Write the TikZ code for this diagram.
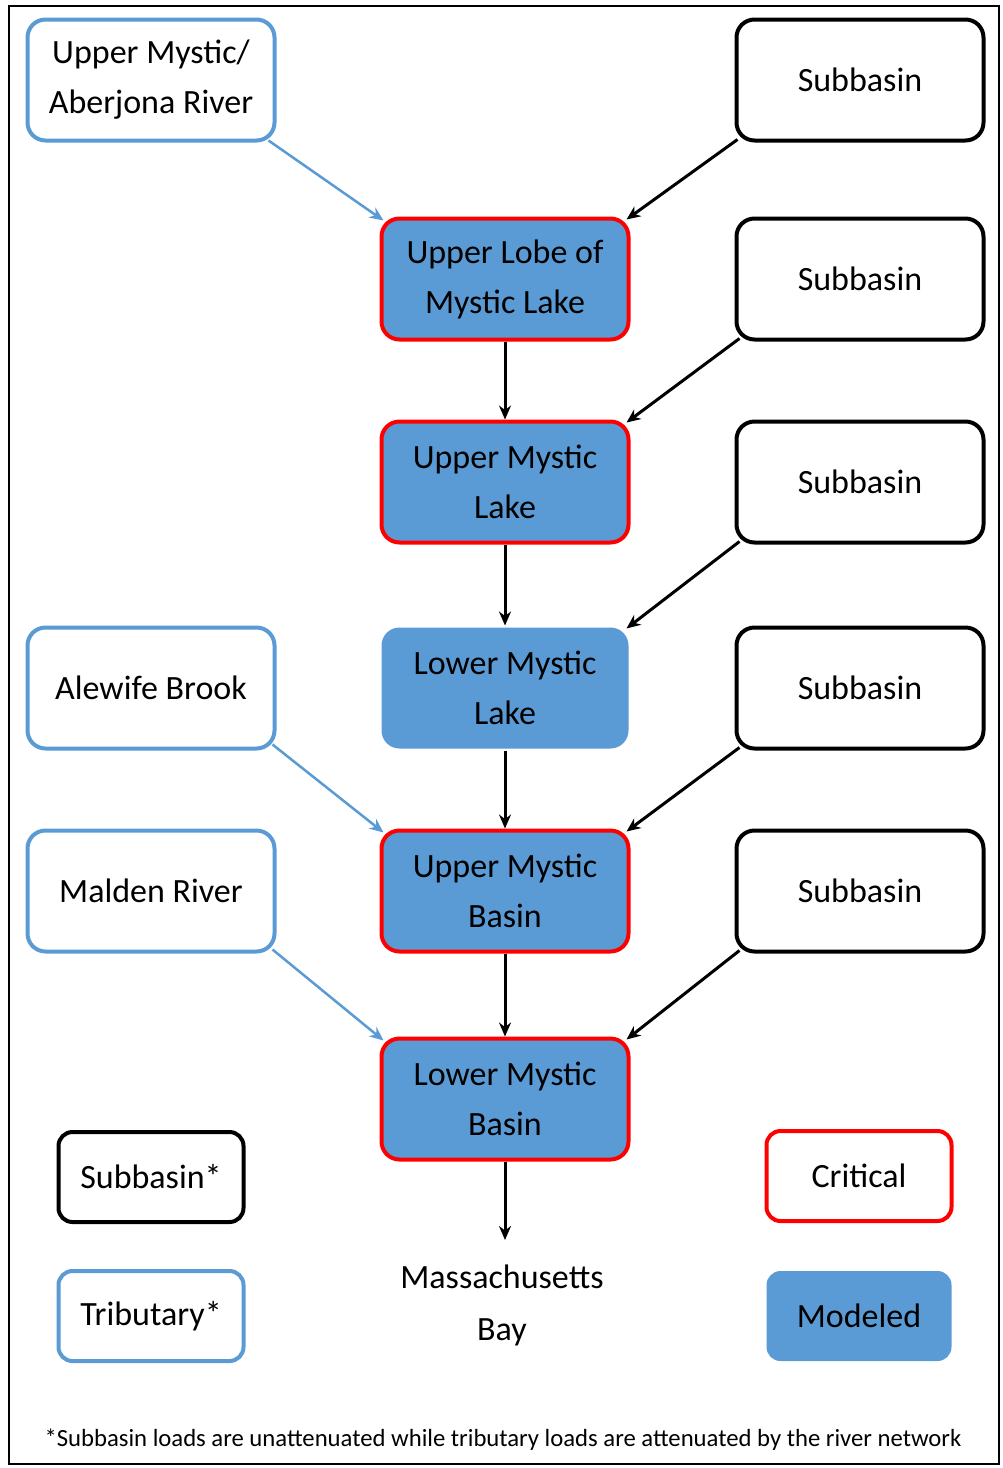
\documentclass[tikz,border=0pt]{standalone}
\usepackage{fontspec}
\setmainfont{Carlito}
\usetikzlibrary{arrows.meta}
\definecolor{mblue}{HTML}{5B9BD5}
\definecolor{mred}{HTML}{FF0000}
\begin{document}
\begin{tikzpicture}[x=1pt,y=-1pt,
  box/.style={rectangle,rounded corners=18pt,minimum width=247pt,minimum height=121pt,
    line width=4pt,align=center,font=\fontsize{34}{50}\selectfont,inner sep=0pt},
  subb/.style={box,draw=black},
  trib/.style={box,draw=mblue,fill=white},
  crit/.style={box,draw=mred,fill=mblue},
  modl/.style={box,fill=mblue},
  legbox/.style={minimum width=185pt,minimum height=90pt,rounded corners=14pt},
  flow/.style={line width=3pt,-{Stealth[length=14pt,width=12pt]},black},
  tflow/.style={line width=2.5pt,-{Stealth[length=14pt,width=12pt]},mblue}]
\useasboundingbox (0,0) rectangle (1002,1468);
\fill[white] (0,0) rectangle (1002,1468);
\draw[line width=2pt] (9,6) rectangle (999,1464);
% tributaries
\node[trib] (umar) at (151,80) {Upper Mystic/\\Aberjona River};
\node[trib] (ab) at (151,688) {Alewife Brook};
\node[trib] (mr) at (151,891) {Malden River};
% subbasins
\node[subb] (s1) at (860,80) {Subbasin};
\node[subb] (s2) at (860,279) {Subbasin};
\node[subb] (s3) at (860,482) {Subbasin};
\node[subb] (s4) at (860,688) {Subbasin};
\node[subb] (s5) at (860,891) {Subbasin};
% main stem
\node[crit] (ul) at (505,279) {Upper Lobe of\\Mystic Lake};
\node[crit] (uml) at (505,482) {Upper Mystic\\Lake};
\node[modl] (lml) at (505,688) {Lower Mystic\\Lake};
\node[crit] (umb) at (505,891) {Upper Mystic\\Basin};
\node[crit] (lmb) at (505,1099) {Lower Mystic\\Basin};
\node[align=center,font=\fontsize{34}{52}\selectfont] (bay) at (502,1305) {Massachusetts\\Bay};
\coordinate (bayin) at (505,1240);
% legend
\node[subb,legbox] (lsub) at (151,1177) {Subbasin*};
\node[trib,legbox] (ltrib) at (151,1316) {Tributary*};
\node[crit,legbox,fill=white] (lcrit) at (859,1176) {Critical};
\node[modl,legbox] (lmod) at (859,1316) {Modeled};
\node[font=\fontsize{24.7}{28}\selectfont] (note) at (503,1440) {*Subbasin loads are unattenuated while tributary loads are attenuated by the river network};
% connectors
\draw[flow] (ul) -- (uml);
\draw[flow] (uml) -- (lml);
\draw[flow] (lml) -- (umb);
\draw[flow] (umb) -- (lmb);
\draw[flow] (lmb) -- (bayin);
\draw[flow] ([shift={(3,-3)}]s1.south west) -- ([shift={(-4,3)}]ul.north east);
\draw[flow] ([shift={(5,-3)}]s2.south west) -- ([shift={(-4,3)}]uml.north east);
\draw[flow] ([shift={(5,-3)}]s3.south west) -- ([shift={(-4,3)}]lml.north east);
\draw[flow] ([shift={(5,-3)}]s4.south west) -- ([shift={(-4,3)}]umb.north east);
\draw[flow] ([shift={(5,-3)}]s5.south west) -- ([shift={(-4,3)}]lmb.north east);
\draw[tflow] ([shift={(-8,-2)}]umar.south east) -- ([shift={(4,4)}]ul.north west);
\draw[tflow] ([shift={(-4,-6)}]ab.south east) -- ([shift={(4,4)}]umb.north west);
\draw[tflow] ([shift={(-4,-4)}]mr.south east) -- ([shift={(4,4)}]lmb.north west);
\end{tikzpicture}
\end{document}
